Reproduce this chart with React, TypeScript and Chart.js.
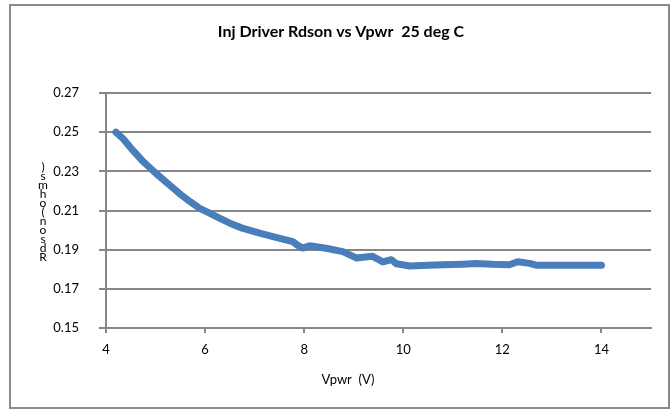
import React, { useEffect, useRef } from "react";
import { Chart, registerables } from "chart.js";

Chart.register(...registerables);

const titleText = "Inj Driver Rdson vs Vpwr  25 deg C";
const xTitle = "Vpwr  (V)";
const yTitle = "Rdson (ohms)";

const vpwr = [4.2, 4.35, 4.54, 4.75, 5.01, 5.25, 5.48, 5.7, 5.89, 6.1, 6.3, 6.5, 6.75, 7.1, 7.43, 7.77, 7.87, 7.97, 8.11, 8.44, 8.78, 9.05, 9.38, 9.59, 9.76, 9.86, 10.13, 10.5, 10.8, 11.2, 11.47, 11.81, 12.14, 12.31, 12.55, 12.68, 13.0, 13.5, 14.0];
const rdson = [0.25, 0.2465, 0.2408, 0.235, 0.2289, 0.2237, 0.2187, 0.2145, 0.2111, 0.2085, 0.206, 0.2035, 0.201, 0.1984, 0.1963, 0.1941, 0.1922, 0.1908, 0.192, 0.1907, 0.189, 0.1858, 0.1866, 0.1838, 0.1849, 0.1828, 0.1817, 0.182, 0.1823, 0.1826, 0.1829, 0.1825, 0.1823, 0.1838, 0.183, 0.1821, 0.1821, 0.182, 0.182];

const xTicks = [4, 6, 8, 10, 12, 14];
const yTicks = [0.15, 0.17, 0.19, 0.21, 0.23, 0.25, 0.27];

const GRID = "#878787";
const FONT = "Lato, 'Liberation Sans', sans-serif";

const decorPlugin = {
  id: "decor",
  beforeDraw(chart: any) {
    const ctx = chart.ctx;
    ctx.save();
    ctx.fillStyle = "#ffffff";
    ctx.fillRect(0, 0, chart.width, chart.height);
    ctx.strokeStyle = "#8a8a8a";
    ctx.lineWidth = 2;
    ctx.strokeRect(10, 5, 659, 403);
    ctx.restore();
  },
  afterDraw(chart: any) {
    const ctx = chart.ctx;
    ctx.save();
    ctx.fillStyle = "#000000";
    ctx.textAlign = "center";
    ctx.textBaseline = "middle";
    ctx.font = `bold 16px ${FONT}`;
    ctx.fillText(titleText, 341, 32);
    ctx.font = `13px ${FONT}`;
    ctx.fillText(xTitle, 348, 380);
    ctx.font = `12px ${FONT}`;
    const chars = yTitle.split("").filter((c) => c !== " ");
    chars.forEach((c, i) => {
      ctx.fillText(c, 43, 257 - i * 9);
    });
    ctx.restore();
  },
};

export default function App() {
  const ref = useRef<HTMLCanvasElement>(null);
  useEffect(() => {
    document.body.style.margin = "0";
    const chart = new Chart(ref.current!, {
      type: "scatter",
      data: {
        datasets: [
          {
            data: vpwr.map((x, i) => ({ x, y: rdson[i] })),
            showLine: true,
            borderColor: "#4A7EBB",
            backgroundColor: "#4A7EBB",
            borderWidth: 7,
            pointRadius: 0,
            borderCapStyle: "round",
            borderJoinStyle: "round",
          } as any,
        ],
      },
      options: {
        animation: false,
        responsive: false,
        layout: { padding: { top: 93, right: 19, left: 0, bottom: 0 } },
        plugins: {
          legend: { display: false },
          tooltip: { enabled: false },
          title: { display: false },
        },
        scales: {
          x: {
            type: "linear",
            min: 4,
            max: 15,
            afterBuildTicks: (s: any) => {
              s.ticks = xTicks.map((v) => ({ value: v }));
            },
            afterFit: (s: any) => {
              s.height = 82;
            },
            grid: {
              drawOnChartArea: false,
              drawTicks: true,
              tickLength: 5,
              tickColor: GRID,
              tickWidth: 2,
              color: GRID,
              lineWidth: 2,
            },
            border: { display: true, color: GRID, width: 2 },
            ticks: {
              color: "#000",
              padding: 9,
              font: { family: FONT, size: 13 },
              maxRotation: 0,
              callback: (v: any) => String(v),
            },
          },
          y: {
            type: "linear",
            min: 0.15,
            max: 0.27,
            afterBuildTicks: (s: any) => {
              s.ticks = yTicks.map((v) => ({ value: v }));
            },
            afterFit: (s: any) => {
              s.width = 106;
            },
            grid: {
              color: GRID,
              lineWidth: 2,
              tickLength: 7,
              tickColor: GRID,
              tickWidth: 2,
            },
            border: { display: true, color: GRID, width: 2 },
            ticks: {
              color: "#000",
              padding: 20,
              font: { family: FONT, size: 13 },
              callback: (v: any) => Number(v).toFixed(2),
            },
          },
        },
      },
      plugins: [decorPlugin],
    });
    return () => chart.destroy();
  }, []);
  return (
    <div style={{ width: 670, height: 410 }}>
      <canvas ref={ref} width={670} height={410} style={{ display: "block", width: 670, height: 410 }} />
    </div>
  );
}
